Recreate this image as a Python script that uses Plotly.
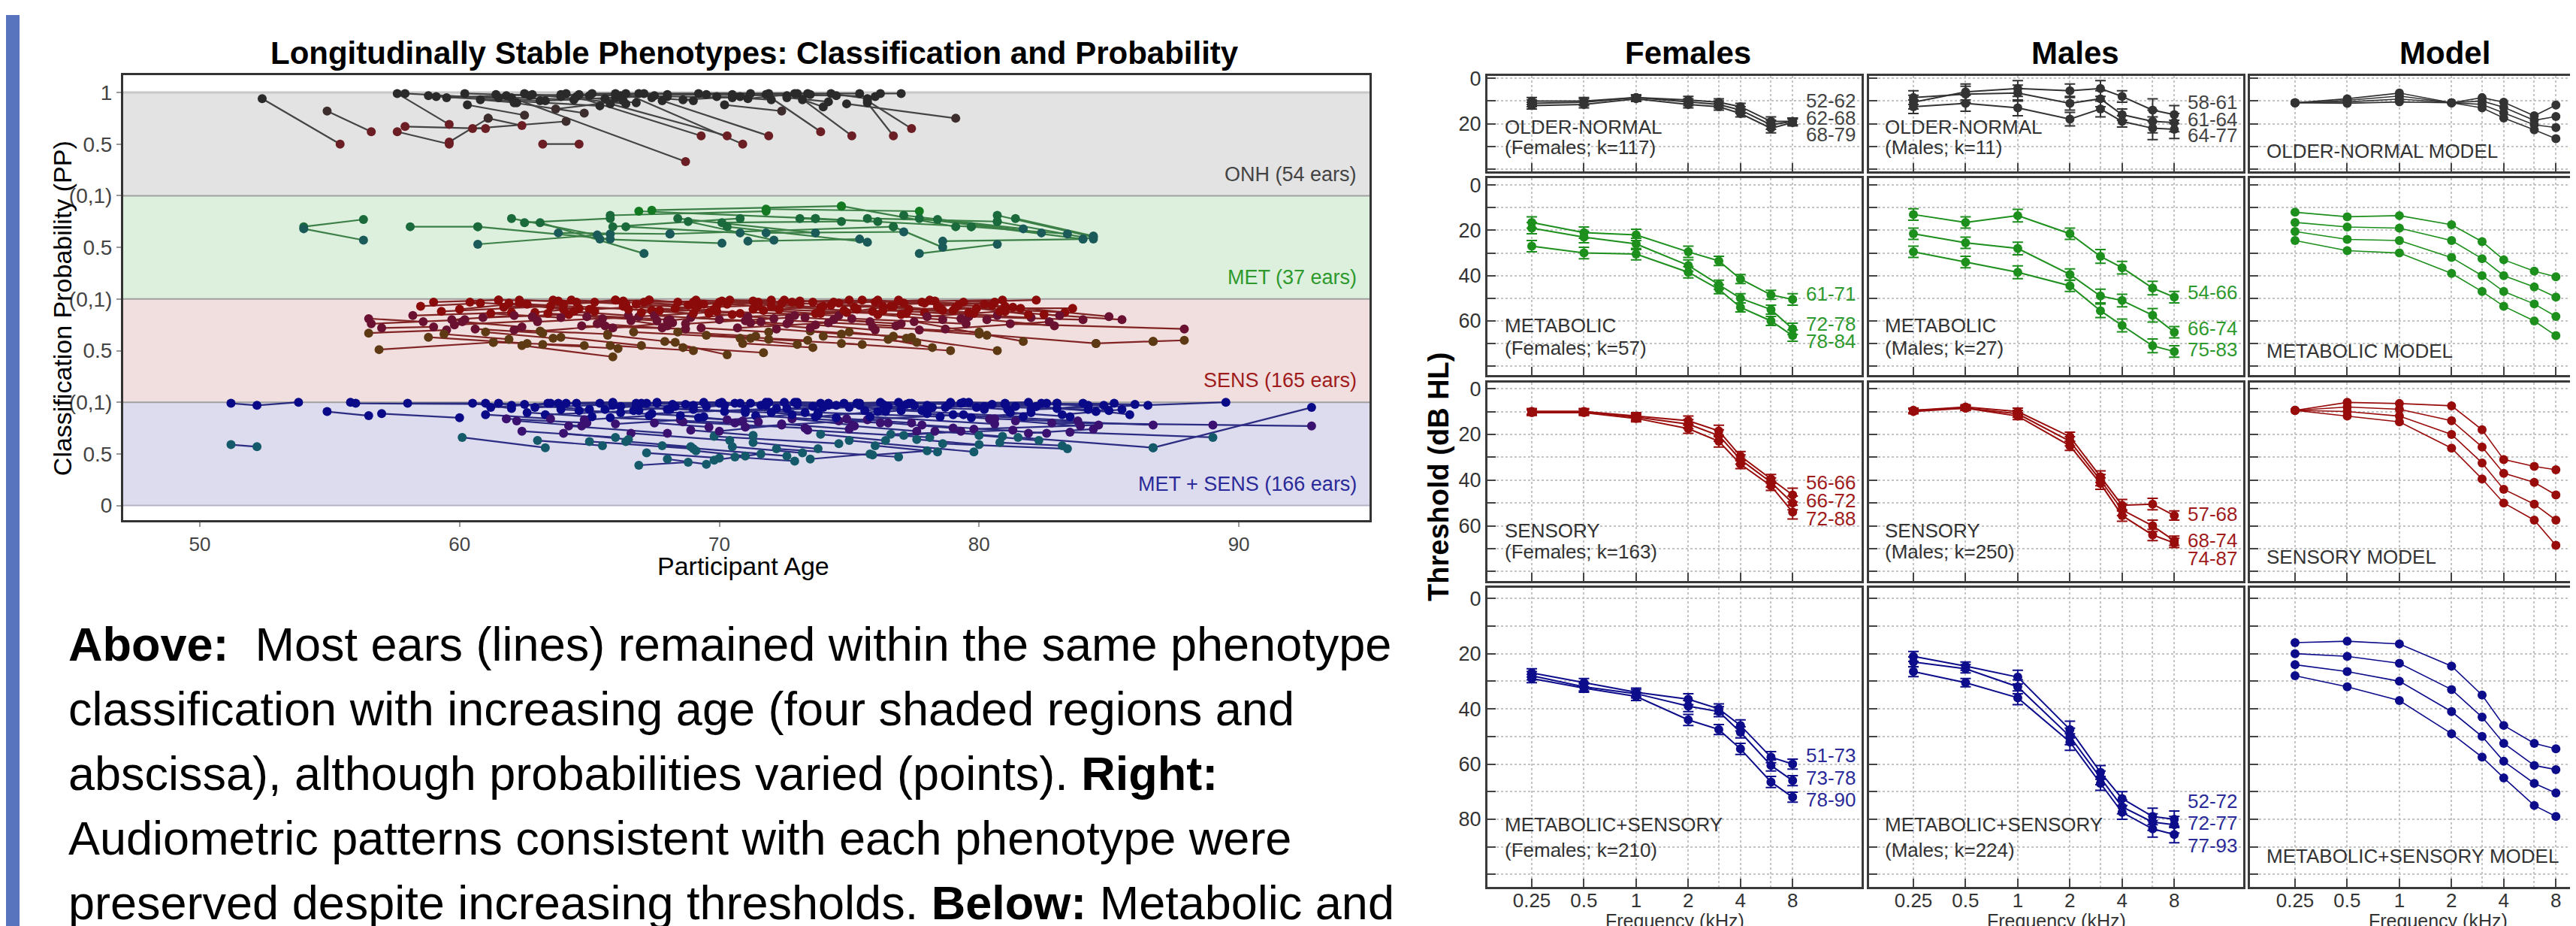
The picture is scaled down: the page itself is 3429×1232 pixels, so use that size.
import math
import plotly.graph_objects as go

W, H = 3429, 1232
FONT = "Liberation Sans, Arial, Helvetica, sans-serif"

# ------------------------------------------------------------------
# LEFT CHART DATA: each ear = (age1, pp1, age2, pp2[, age3, pp3])
# ------------------------------------------------------------------
ONH_EARS = [
    (52.4, 0.94, 55.4, 0.50), (54.9, 0.82, 56.6, 0.62), (57.6, 0.99, 59.6, 0.69),
    (57.9, 0.99, 63.1, 0.92), (57.6, 0.62, 59.6, 0.50), (57.9, 0.67, 61.0, 0.65),
    (59.6, 0.52, 61.1, 0.75), (59.1, 0.96, 65.4, 0.87), (60.5, 0.65, 64.1, 0.72),
    (61.8, 0.97, 68.7, 0.33), (63.2, 0.50, 64.6, 0.50), (62.5, 0.99, 66.4, 0.89),
    (64.1, 0.99, 69.3, 0.58), (65.8, 0.89, 70.3, 0.58), (66.4, 0.99, 70.9, 0.50),
    (67.8, 0.92, 71.9, 0.58), (71.8, 0.98, 73.9, 0.62), (72.9, 0.99, 75.1, 0.58),
    (75.7, 0.92, 77.4, 0.65), (75.7, 0.90, 76.7, 0.58), (74.9, 0.89, 79.1, 0.75),
    (58.8, 0.97, 61.5, 0.95), (59.5, 0.95, 62.8, 0.98), (60.2, 0.99, 63.9, 0.96),
    (60.8, 0.93, 62.2, 0.90), (61.4, 0.98, 65.0, 0.97), (62.0, 0.95, 64.4, 0.93),
    (62.7, 0.97, 67.1, 0.99), (63.3, 0.92, 66.0, 0.95), (63.9, 0.98, 68.0, 0.96),
    (64.5, 0.96, 66.8, 0.90), (65.1, 0.99, 69.5, 0.98), (65.6, 0.94, 67.5, 0.97),
    (66.2, 0.97, 70.5, 0.95), (66.9, 0.99, 71.2, 0.99), (67.4, 0.95, 69.0, 0.92),
    (68.0, 0.98, 72.6, 0.97), (68.6, 0.93, 70.8, 0.96), (69.2, 0.99, 73.4, 0.99),
    (69.9, 0.96, 72.0, 0.93), (70.5, 0.98, 74.5, 0.97), (71.1, 0.94, 73.0, 0.99),
    (71.9, 0.99, 75.4, 0.99), (72.6, 0.95, 74.2, 0.91), (73.5, 0.98, 76.0, 0.96),
    (74.3, 0.99, 75.7, 0.94), (62.1, 0.90, 64.8, 0.80), (60.3, 0.88, 62.5, 0.78),
    (63.7, 0.84, 66.3, 0.92), (70.2, 0.88, 72.4, 0.82), (76.2, 0.99, 77.0, 0.99),
    (73.2, 0.93, 74.0, 0.86), (64.6, 0.98, 66.0, 0.99), (61.1, 0.75, 62.4, 0.68),
]
MET_EARS = [
    (54.0, 0.70, 56.3, 0.77), (54.0, 0.68, 56.3, 0.57), (58.1, 0.70, 60.7, 0.70),
    (60.7, 0.53, 65.8, 0.63), (62.0, 0.78, 65.3, 0.62), (63.1, 0.74, 67.1, 0.44),
    (65.8, 0.81, 71.8, 0.85), (66.9, 0.85, 73.7, 0.78), (67.4, 0.86, 74.7, 0.90),
    (71.8, 0.87, 77.7, 0.85), (77.7, 0.78, 84.0, 0.58), (80.7, 0.81, 84.4, 0.60),
    (80.7, 0.75, 84.4, 0.58), (77.7, 0.44, 80.7, 0.53), (68.1, 0.63, 76.7, 0.70),
    (68.8, 0.75, 72.1, 0.57), (70.3, 0.70, 75.7, 0.55), (63.8, 0.64, 68.1, 0.63),
    (60.7, 0.70, 65.8, 0.58), (65.4, 0.58, 70.1, 0.54), (65.9, 0.70, 70.8, 0.78),
    (70.1, 0.74, 74.7, 0.75), (71.8, 0.64, 77.1, 0.65), (74.7, 0.90, 79.1, 0.70),
    (75.7, 0.78, 80.7, 0.75), (78.4, 0.77, 82.4, 0.64), (78.6, 0.56, 84.0, 0.58),
    (76.7, 0.70, 78.6, 0.50), (73.7, 0.78, 79.7, 0.70), (68.4, 0.78, 73.7, 0.64),
    (73.1, 0.78, 76.1, 0.75), (77.1, 0.81, 81.7, 0.68), (79.7, 0.70, 83.4, 0.63),
    (81.4, 0.78, 84.4, 0.61), (66.4, 0.70, 70.8, 0.64), (71.1, 0.56, 75.4, 0.58),
    (62.5, 0.74, 65.8, 0.78),
]
SENS_EARS = [
    (56.5, 0.81, 58.6, 0.78), (56.5, 0.67, 59.5, 0.70), (56.9, 0.51, 61.3, 0.58),
    (56.6, 0.76, 60.2, 0.80), (57.0, 0.72, 59.0, 0.73), (58.2, 0.84, 62.0, 0.87),
    (58.8, 0.63, 62.6, 0.57), (59.3, 0.88, 63.5, 0.93), (59.8, 0.75, 63.0, 0.79),
    (60.4, 0.97, 65.0, 0.90), (60.9, 0.82, 64.2, 0.85), (61.3, 0.58, 64.8, 0.55),
    (61.7, 0.92, 66.3, 0.98), (62.1, 0.70, 65.7, 0.66), (62.6, 0.95, 67.4, 0.89),
    (63.0, 0.78, 66.9, 0.83), (63.4, 0.86, 68.1, 0.80), (63.9, 0.63, 67.0, 0.55),
    (64.3, 0.99, 69.2, 0.94), (64.7, 0.74, 68.7, 0.71), (65.1, 0.90, 70.0, 0.97),
    (65.5, 0.81, 69.6, 0.87), (62.4, 0.55, 65.9, 0.44), (66.3, 0.93, 70.8, 0.86),
    (66.7, 0.68, 71.2, 0.62), (67.1, 0.97, 72.0, 0.99), (67.5, 0.84, 71.6, 0.78),
    (67.9, 0.59, 70.3, 0.46), (68.3, 0.91, 73.1, 0.95), (68.7, 0.76, 72.7, 0.82),
    (69.1, 0.99, 73.9, 0.92), (69.5, 0.65, 73.4, 0.60), (69.9, 0.88, 74.6, 0.84),
    (70.3, 0.95, 75.0, 0.99), (70.7, 0.72, 74.2, 0.77), (71.1, 0.83, 75.9, 0.88),
    (71.5, 0.97, 76.3, 0.93), (71.9, 0.61, 75.5, 0.56), (72.3, 0.90, 77.0, 0.85),
    (72.7, 0.79, 76.8, 0.74), (73.1, 0.98, 77.8, 0.97), (73.5, 0.69, 77.4, 0.63),
    (73.9, 0.86, 78.5, 0.91), (74.3, 0.94, 79.0, 0.89), (74.7, 0.57, 78.9, 0.50),
    (75.1, 0.81, 79.5, 0.76), (75.5, 0.99, 80.2, 0.95), (75.9, 0.73, 80.0, 0.68),
    (76.3, 0.89, 80.7, 0.84), (76.7, 0.64, 80.7, 0.50), (77.1, 0.96, 81.3, 0.92),
    (77.5, 0.78, 81.7, 0.59), (77.9, 0.87, 82.0, 0.82), (78.3, 0.98, 80.9, 0.99),
    (78.7, 0.71, 82.7, 0.78), (79.1, 0.92, 83.3, 0.87), (79.6, 0.83, 84.0, 0.80),
    (80.0, 0.66, 84.5, 0.57), (80.5, 0.94, 85.0, 0.83), (81.2, 0.76, 87.9, 0.71),
    (84.5, 0.57, 86.7, 0.59), (86.7, 0.59, 87.9, 0.60), (81.6, 0.91, 83.6, 0.91),
    (82.5, 0.85, 85.5, 0.80), (60.0, 0.90, 62.3, 0.96), (61.0, 0.68, 63.6, 0.62),
    (62.9, 0.87, 64.6, 0.91), (64.0, 0.95, 66.0, 0.99), (65.3, 0.76, 67.8, 0.72),
    (66.0, 0.99, 68.4, 0.97), (67.7, 0.89, 69.9, 0.93), (68.9, 0.82, 71.0, 0.79),
    (70.1, 0.98, 72.4, 0.96), (71.3, 0.90, 73.7, 0.86), (72.5, 0.99, 74.4, 0.97),
    (73.7, 0.75, 76.0, 0.70), (74.9, 0.87, 76.6, 0.93), (76.0, 0.97, 78.1, 0.99),
    (77.2, 0.86, 79.3, 0.81), (78.4, 0.93, 80.6, 0.97), (63.2, 0.56, 66.1, 0.52),
    (65.8, 0.55, 69.0, 0.50), (68.6, 0.53, 71.7, 0.48), (70.9, 0.57, 73.6, 0.53),
    (59.0, 0.97, 61.5, 0.99), (61.5, 0.99, 63.8, 0.98), (74.0, 0.64, 77.6, 0.58),
    (76.5, 0.61, 78.2, 0.53), (66.6, 0.79, 68.0, 0.74), (69.3, 0.72, 71.9, 0.68),
    (58.5, 0.93, 60.8, 0.96), (59.7, 0.80, 62.1, 0.84), (60.6, 0.71, 63.2, 0.67),
    (61.9, 0.96, 64.0, 0.90), (62.8, 0.83, 65.2, 0.88), (63.6, 0.99, 66.4, 0.95),
    (64.4, 0.88, 66.5, 0.84), (65.2, 0.97, 67.3, 0.99), (65.9, 0.72, 68.2, 0.77),
    (66.5, 0.90, 69.0, 0.86), (67.3, 0.99, 69.4, 0.95), (68.0, 0.79, 70.5, 0.85),
    (68.8, 0.94, 71.3, 0.98), (69.6, 0.86, 72.1, 0.81), (70.4, 0.99, 72.8, 0.97),
    (71.2, 0.77, 73.5, 0.72), (72.0, 0.93, 74.8, 0.89), (72.9, 0.84, 75.3, 0.90),
    (73.6, 0.97, 76.1, 0.99), (74.4, 0.80, 77.0, 0.76), (75.2, 0.92, 77.9, 0.96),
    (76.1, 0.85, 78.6, 0.80), (76.9, 0.99, 79.2, 0.94), (77.7, 0.70, 80.3, 0.65),
    (78.6, 0.89, 81.0, 0.93), (79.4, 0.97, 82.2, 0.99), (80.3, 0.80, 82.9, 0.74),
    (81.0, 0.88, 83.1, 0.84), (59.4, 0.66, 61.9, 0.61), (61.2, 0.86, 63.9, 0.82),
    (63.1, 0.69, 65.6, 0.74), (64.9, 0.83, 67.6, 0.79), (66.8, 0.95, 69.1, 0.91),
    (68.4, 0.68, 71.4, 0.64), (70.0, 0.80, 72.6, 0.76), (71.7, 0.89, 74.0, 0.93),
    (73.3, 0.82, 75.8, 0.78), (75.0, 0.68, 77.2, 0.62), (76.7, 0.93, 79.6, 0.87),
    (78.0, 0.83, 80.8, 0.88), (62.3, 0.99, 64.5, 0.97), (67.0, 0.87, 69.8, 0.90),
    (72.2, 0.71, 74.7, 0.66), (77.3, 0.90, 79.8, 0.86), (60.1, 0.78, 62.4, 0.73),
    (69.0, 0.97, 71.5, 0.93), (74.6, 0.96, 76.9, 0.98), (79.9, 0.91, 81.9, 0.85),
    (65.7, 0.65, 68.3, 0.58), (70.8, 0.62, 73.0, 0.56),
]
MS_EARS = [
    (51.2, 0.99, 52.2, 0.97, 53.8, 1.00), (55.8, 1.00, 56.0, 0.99, 62.5, 0.98),
    (54.9, 0.91, 56.5, 0.87), (51.2, 0.59, 52.2, 0.57), (60.1, 0.66, 63.3, 0.56),
    (66.9, 0.39, 68.8, 0.42), (61.5, 0.99, 65.0, 0.93), (61.8, 0.84, 64.9, 0.80),
    (62.4, 0.72, 66.0, 0.66), (62.9, 0.95, 67.2, 0.99), (63.3, 0.88, 66.9, 0.92),
    (63.8, 0.99, 68.3, 0.96), (64.2, 0.77, 68.0, 0.70), (64.6, 0.92, 69.4, 0.86),
    (65.0, 0.62, 69.0, 0.55), (65.4, 0.99, 70.1, 1.00), (65.8, 0.85, 70.6, 0.80),
    (66.2, 0.96, 71.0, 0.90), (66.6, 0.70, 70.4, 0.63), (67.0, 0.99, 71.8, 0.97),
    (67.4, 0.89, 72.2, 0.94), (67.8, 0.58, 72.6, 0.48), (68.2, 0.98, 73.0, 1.00),
    (68.6, 0.81, 73.3, 0.75), (69.0, 0.93, 73.8, 0.88), (69.4, 1.00, 74.2, 0.97),
    (69.8, 0.67, 74.6, 0.60), (70.2, 0.91, 75.0, 0.95), (70.6, 0.99, 75.3, 0.99),
    (71.0, 0.76, 75.7, 0.83), (71.4, 0.87, 76.2, 0.80), (71.8, 1.00, 76.5, 0.96),
    (72.2, 0.55, 76.9, 0.47), (72.6, 0.94, 77.3, 0.99), (73.0, 0.98, 77.8, 0.92),
    (73.4, 0.73, 78.1, 0.66), (73.8, 0.90, 78.5, 0.86), (74.2, 0.99, 78.9, 1.00),
    (74.6, 0.82, 79.4, 0.88), (75.0, 0.63, 79.8, 0.52), (75.4, 0.97, 80.2, 0.93),
    (75.8, 0.86, 80.6, 0.79), (76.2, 1.00, 81.0, 0.98), (76.6, 0.69, 81.3, 0.73),
    (77.0, 0.92, 81.7, 0.86), (77.4, 0.99, 82.2, 0.96), (77.8, 0.78, 82.6, 0.70),
    (78.2, 0.95, 83.0, 0.99), (78.6, 0.60, 83.4, 0.55), (79.0, 0.88, 83.8, 0.82),
    (79.4, 1.00, 84.2, 0.97), (79.8, 0.74, 84.6, 0.78), (80.2, 0.96, 85.0, 0.92),
    (80.6, 0.84, 86.7, 0.78), (81.0, 0.99, 86.0, 0.98), (81.5, 0.66, 86.7, 0.56),
    (82.0, 0.93, 89.5, 1.00), (82.8, 0.80, 89.0, 0.78, 92.8, 0.77),
    (83.5, 0.71, 89.0, 0.66), (86.7, 0.56, 92.8, 0.95), (84.0, 0.99, 86.5, 0.97),
    (62.0, 0.97, 64.1, 0.99), (63.0, 0.63, 65.5, 0.58), (64.5, 0.99, 66.8, 0.97),
    (66.0, 0.79, 68.5, 0.83), (67.2, 0.51, 70.0, 0.46), (68.0, 0.93, 70.2, 0.97),
    (69.2, 0.85, 71.5, 0.81), (70.5, 0.57, 73.2, 0.51), (71.6, 0.97, 73.9, 0.99),
    (72.8, 0.84, 75.1, 0.78), (74.0, 0.95, 76.3, 0.98), (75.2, 0.77, 77.6, 0.72),
    (76.4, 0.91, 78.7, 0.95), (77.6, 0.64, 80.0, 0.59), (78.8, 0.97, 81.1, 0.93),
    (80.0, 0.68, 82.3, 0.63), (81.2, 0.90, 83.5, 0.86), (82.4, 0.99, 84.8, 0.97),
    (60.5, 0.99, 62.0, 0.94), (73.5, 0.45, 75.8, 0.50), (69.8, 0.44, 71.6, 0.50),
    (65.6, 0.93, 67.6, 0.99), (70.8, 0.99, 72.5, 1.00), (74.8, 0.99, 76.9, 1.00),
    (79.3, 0.99, 81.9, 1.00), (83.0, 0.94, 85.2, 0.99), (61.0, 0.88, 63.5, 0.84),
    (58.0, 0.99, 61.0, 0.99), (57.0, 0.89, 60.0, 0.85),
    (61.2, 0.95, 63.4, 0.99), (62.6, 0.90, 65.1, 0.86), (63.5, 0.99, 65.9, 1.00),
    (64.8, 0.83, 67.3, 0.87), (65.9, 0.97, 68.1, 0.93), (66.7, 0.92, 69.0, 0.97),
    (67.6, 1.00, 70.0, 0.99), (68.5, 0.87, 70.9, 0.82), (69.5, 0.96, 71.9, 1.00),
    (70.3, 0.83, 72.8, 0.88), (71.2, 0.99, 73.6, 0.96), (72.0, 0.90, 74.5, 0.85),
    (72.9, 1.00, 75.4, 0.99), (73.7, 0.86, 76.1, 0.91), (74.5, 0.97, 77.0, 0.93),
    (75.6, 0.92, 78.0, 0.97), (76.5, 0.80, 79.0, 0.75), (77.2, 0.98, 79.6, 1.00),
    (78.0, 0.89, 80.4, 0.84), (78.9, 0.99, 81.4, 0.96), (79.7, 0.85, 82.0, 0.90),
    (80.5, 0.98, 83.0, 0.99), (81.4, 0.82, 83.9, 0.77), (82.2, 0.96, 84.5, 0.91),
    (83.2, 0.88, 85.5, 0.93), (64.0, 0.70, 66.5, 0.64), (66.4, 0.62, 68.9, 0.57),
    (68.9, 0.73, 71.3, 0.68), (71.3, 0.61, 73.8, 0.55), (73.9, 0.69, 76.4, 0.63),
    (76.0, 0.58, 78.4, 0.52), (78.3, 0.72, 80.9, 0.67), (80.8, 0.61, 83.2, 0.58),
    (67.5, 0.80, 69.6, 0.76), (70.0, 0.72, 72.4, 0.78), (72.4, 0.79, 75.0, 0.74),
    (74.9, 0.84, 77.4, 0.80), (77.1, 0.68, 79.3, 0.72), (69.1, 0.53, 71.0, 0.48),
    (75.9, 0.49, 78.0, 0.53), (63.9, 0.93, 66.2, 0.90), (66.8, 0.99, 68.7, 0.98),
    (71.0, 0.93, 73.3, 0.90), (75.3, 0.99, 77.5, 0.97), (79.9, 0.95, 82.6, 0.99),
    (84.2, 0.93, 85.8, 0.88), (62.2, 0.82, 64.7, 0.77), (70.6, 0.47, 72.9, 0.43),
    (68.0, 0.45, 69.5, 0.40), (81.9, 0.70, 84.4, 0.74),
]
AGE_TICKS = [50, 60, 70, 80, 90]
PP_TICKVALS = [0, 0.5, 1, 1.5, 2, 2.5, 3, 3.5, 4]
PP_TICKTEXT = ["0", "0.5", "(0,1)", "0.5", "(0,1)", "0.5", "(0,1)", "0.5", "1"]
BAND_LABELS = ["ONH (54 ears)", "MET (37 ears)", "SENS (165 ears)", "MET + SENS (166 ears)"]

# ------------------------------------------------------------------
# RIGHT PANELS DATA (thresholds, dB HL)
# ------------------------------------------------------------------
FREQS = [0.25, 0.5, 1, 2, 3, 4, 6, 8]
FREQ_TICKS = [0.25, 0.5, 1, 2, 4, 8]
FREQ_TICKTEXT = ["0.25", "0.5", "1", "2", "4", "8"]

F_ONH = [[10, 10, 8.5, 9.5, 10.5, 12.5, 19, 19],
         [11, 10.5, 8.5, 10.5, 11.5, 14, 20.5, 19],
         [12, 11.5, 9, 11.5, 12.5, 15.5, 22, 19.5]]
F_MET = [[16.5, 21, 22, 29.5, 33.5, 41.5, 48.5, 50.5],
         [19, 23, 26, 35.5, 44, 50, 55, 63.5],
         [27, 30, 30.5, 38.5, 46, 54, 60, 66.5]]
F_SENS = [[10, 10, 12, 14, 18.5, 29.5, 39.5, 46.5],
          [10, 10, 12.5, 15.5, 20.5, 31, 41, 50],
          [10.5, 10.5, 13, 17.5, 23, 33, 42.5, 54]]
F_MS = [[27, 30.5, 34, 36.5, 40, 46, 57.5, 60],
        [28, 32, 34.5, 39, 41, 48.5, 60.5, 66],
        [29, 32.5, 35.5, 44, 47.5, 54.5, 66.5, 72]]
M_ONH = [[10.5, 6, 4.5, 5.5, 4.5, 8, 14, 16],
         [8.5, 7, 6.5, 11, 9, 16, 19, 19.5],
         [12.5, 11, 13, 18, 13.5, 19, 22, 22.5]]
M_MET = [[13, 16.5, 13.5, 21.5, 31.5, 36.5, 45.5, 49.5],
         [21.5, 25.5, 28, 39.5, 49, 51, 57.5, 65],
         [29.5, 34, 38.5, 44.5, 55.5, 62, 71, 73.5]]
M_SENS = [[9.5, 8, 10, 21, 38.5, 51, 50.5, 55.5],
          [9.5, 8.5, 11, 23, 40, 53, 60, 66.5],
          [10, 8.5, 12, 25, 41.5, 55.5, 64, 67.5]]
M_MS = [[21, 24.5, 28.5, 47.5, 63, 72.5, 79, 80],
        [23, 25.5, 32, 50, 65, 75.5, 81, 82],
        [26.5, 30.5, 36, 52, 67, 77.5, 83.5, 85.5]]
MOD_ONH = [[10.8, 9, 6.5, 10.8, 8.5, 10.5, 16.5, 11.8],
           [10.8, 9.7, 7.8, 10.8, 10, 12.8, 18.5, 16.8],
           [10.8, 10.4, 9.1, 10.8, 11.5, 15.2, 20.5, 21.7],
           [10.8, 11, 10.4, 10.8, 13, 17.5, 22.7, 26.6]]
MOD_MET = [[12, 14, 13.5, 17.5, 25, 33, 38, 40.5],
           [16.5, 18.5, 19, 24.5, 32.5, 40, 45, 49.5],
           [20.5, 24, 24.5, 32, 40, 47, 52.5, 58],
           [24.5, 29, 30, 39, 47, 53.5, 60, 66.5]]
MOD_SENS = [[9.5, 6, 6.5, 7.5, 18, 31, 34, 35.5],
            [9.5, 8, 9, 14, 25.5, 37, 41, 46.5],
            [9.5, 10, 12, 20, 32.5, 44, 50.5, 57.5],
            [9.5, 12, 14.5, 26, 39.5, 50, 57.5, 68.5]]
MOD_MS = [[16, 15.5, 16.5, 24.5, 35, 46, 52.5, 54.5],
          [20, 21, 23.5, 33, 43, 52.5, 60.5, 62],
          [24, 26.5, 30, 41, 50, 59, 67, 70.5],
          [28, 32, 37, 49, 57.5, 65, 75, 79]]

F_ONH_ERR = [1.5, 1.5, 1.2, 1.5, 1.5, 1.5, 2.0, 1.5]
F_MET_ERR = [2.5, 2.5, 2.5, 2.5, 2.0, 2.0, 2.0, 2.5]
F_SENS_ERR = [1.2, 1.2, 1.5, 2.0, 2.5, 2.0, 2.0, 3.0]
F_MS_ERR = [1.5, 1.5, 1.5, 2.0, 1.8, 2.0, 2.0, 1.8]
M_ONH_ERR = [3.0, 3.5, 3.5, 3.0, 3.5, 2.5, 5.0, 4.0]
M_MET_ERR = [2.5, 2.5, 2.8, 2.5, 3.0, 2.8, 3.0, 2.5]
M_SENS_ERR = [1.0, 1.0, 1.5, 2.0, 2.5, 2.5, 2.5, 2.0]
M_MS_ERR = [1.8, 1.5, 2.5, 3.0, 2.5, 2.5, 3.0, 3.0]

F_ONH_AGES = ["52-62", "62-68", "68-79"]
F_MET_AGES = ["61-71", "72-78", "78-84"]
F_SENS_AGES = ["56-66", "66-72", "72-88"]
F_MS_AGES = ["51-73", "73-78", "78-90"]
M_ONH_AGES = ["58-61", "61-64", "64-77"]
M_MET_AGES = ["54-66", "66-74", "75-83"]
M_SENS_AGES = ["57-68", "68-74", "74-87"]
M_MS_AGES = ["52-72", "72-77", "77-93"]
MOD_AGES = ["55", "65", "75", "85"]

ROW_NAMES = ["OLDER-NORMAL", "METABOLIC", "SENSORY", "METABOLIC+SENSORY"]
F_SUBS = ["(Females; k=117)", "(Females; k=57)", "(Females; k=163)", "(Females; k=210)"]
M_SUBS = ["(Males; k=11)", "(Males; k=27)", "(Males; k=250)", "(Males; k=224)"]
MOD_NAMES = ["OLDER-NORMAL MODEL", "METABOLIC MODEL", "SENSORY MODEL", "METABOLIC+SENSORY MODEL"]
COL_TITLES = ["Females", "Males", "Model"]

PARAGRAPH = [
    "<b>Above:</b>&nbsp; Most ears (lines) remained within the same phenotype",
    "classification with increasing age (four shaded regions and",
    "abscissa), although probabilities varied (points). <b>Right:</b>",
    "Audiometric patterns consistent with each phenotype were",
    "preserved despite increasing thresholds. <b>Below:</b> Metabolic and",
]

# ------------------------------------------------------------------
# STYLE / LAYOUT
# ------------------------------------------------------------------
def px(x):
    return x / W


def py(y):
    return 1 - y / H


ROW_COLORS = ["#333333", "#1c8f1c", "#990c0c", "#0d0d8c"]
ROW_TEXT_COLORS = ["#444444", "#2e9a2e", "#a01c1c", "#2a2a98"]

fig = go.Figure()
annotations = []
shapes = []

# left blue bar
shapes.append(dict(type="rect", xref="paper", yref="paper", x0=0, x1=px(18), y0=0, y1=1,
                   fillcolor="#5874bf", line=dict(width=0), layer="below"))

# ---- left chart ----
BAND_FILLS = ["#e3e3e3", "#ddefdd", "#f1dfdf", "#dddcef"]
BAND_BASES = [3, 2, 1, 0]
for fill, base in zip(BAND_FILLS, BAND_BASES):
    shapes.append(dict(type="rect", xref="x domain", yref="y", x0=0, x1=1, y0=base, y1=base + 1,
                       fillcolor=fill, line=dict(width=0), layer="below"))
for yb, col, wdt in [(4, "#c8c8c8", 3), (3, "#a0a0a0", 2), (2, "#a0a0a0", 2), (1, "#a0a0a0", 2), (0, "#b4b4c4", 2)]:
    shapes.append(dict(type="line", xref="x domain", yref="y", x0=0, x1=1, y0=yb, y1=yb,
                       line=dict(color=col, width=wdt), layer="below"))

GROUPS = [
    (ONH_EARS, 3, "#333333", "#2a2a2a", "#3d2d2d", "#6b1f24"),
    (MET_EARS, 2, "#2a7436", "#137a22", "#1a6a3c", "#1a5a58"),
    (SENS_EARS, 1, "#761010", "#8b0a0a", "#6a1030", "#5e3a14"),
    (MS_EARS, 0, "#1a1a78", "#0a0a88", "#3a1070", "#145a6a"),
]
for ears, base, lcol, cmain, ca, cb in GROUPS:
    lx, ly, mx, my, mc = [], [], [], [], []
    for ear in ears:
        for a, p in zip(ear[0::2], ear[1::2]):
            lx.append(a)
            ly.append(base + p)
            mx.append(a)
            my.append(base + p)
            mc.append(cmain if p >= 0.85 else (ca if p >= 0.7 else cb))
        lx.append(None)
        ly.append(None)
    fig.add_trace(go.Scatter(x=lx, y=ly, mode="lines", line=dict(color=lcol, width=2.2),
                             opacity=0.9, xaxis="x", yaxis="y", hoverinfo="skip", showlegend=False))
    fig.add_trace(go.Scatter(x=mx, y=my, mode="markers", marker=dict(color=mc, size=12),
                             xaxis="x", yaxis="y", hoverinfo="skip", showlegend=False))

BAND_LABEL_Y = [3.21, 2.21, 1.21, 0.21]
for txt, yv, col in zip(BAND_LABELS, BAND_LABEL_Y, ROW_TEXT_COLORS):
    annotations.append(dict(text=txt, xref="paper", yref="y", x=px(1800), y=yv, xanchor="right",
                            yanchor="middle", showarrow=False, font=dict(size=27, color=col, family=FONT)))

layout = dict(
    width=W, height=H, margin=dict(l=0, r=0, t=0, b=0), paper_bgcolor="white", plot_bgcolor="white",
    showlegend=False, font=dict(family=FONT, color="#222"),
    xaxis=dict(domain=[px(156), px(1815)], range=[47.05, 95.03], anchor="y", tickvals=AGE_TICKS,
               ticks="outside", ticklen=6, tickwidth=1.5, tickcolor="#999",
               tickfont=dict(size=26, color="#444", family=FONT), showgrid=False, zeroline=False,
               showline=True, mirror=True, linecolor="#333", linewidth=3),
    yaxis=dict(domain=[py(679), py(81)], range=[-0.144, 4.166], anchor="x", tickvals=PP_TICKVALS,
               ticktext=PP_TICKTEXT, ticks="outside", ticklen=6, tickwidth=1.5, tickcolor="#999",
               tickfont=dict(size=28, color="#444", family=FONT), showgrid=False, zeroline=False,
               showline=True, mirror=True, linecolor="#333", linewidth=3),
)

# ---- right panels ----
ROW_PX = [(82, 210), (219, 484), (494, 760), (769, 1171)]
ROW_YRANGE = [(41, -1), (84, -3.1), (84, -2.6), (104.4, -4)]
ROW_LABELED = [[0, 20], [0, 20, 40, 60], [0, 20, 40, 60], [0, 20, 40, 60, 80]]
COL_PX = [(1972, 2470), (2480, 2978), (2987, 3485)]
ZERO_PX = [2031, 2539, 3047]
PX_OCT = 69.45

PANEL_DATA = [
    [(F_ONH, F_ONH_ERR, F_ONH_AGES), (M_ONH, M_ONH_ERR, M_ONH_AGES), (MOD_ONH, None, MOD_AGES)],
    [(F_MET, F_MET_ERR, F_MET_AGES), (M_MET, M_MET_ERR, M_MET_AGES), (MOD_MET, None, MOD_AGES)],
    [(F_SENS, F_SENS_ERR, F_SENS_AGES), (M_SENS, M_SENS_ERR, M_SENS_AGES), (MOD_SENS, None, MOD_AGES)],
    [(F_MS, F_MS_ERR, F_MS_AGES), (M_MS, M_MS_ERR, M_MS_AGES), (MOD_MS, None, MOD_AGES)],
]
AGE_LABEL_Y = [
    [[9.8, 17.4, 24.9], [10.5, 18, 25.2], [10.5, 16.7, 23.3, 29.8]],
    [[48.2, 61.3, 68.9], [47.5, 63.3, 72.5], [40.6, 49.2, 57.4, 66]],
    [[41, 48.9, 57], [55, 66.4, 74.3], [34.5, 45, 56.4, 67.4]],
    [[56.9, 65, 73], [73.6, 81.4, 89.5], [53.1, 61.7, 69.8, 78.2]],
]
NAME_Y = [150, 417, 693, 1088]
SUB_Y = [178, 447, 721, 1122]
MOD_NAME_Y = [183, 451, 728, 1130]
NAME_X = [1993, 2499, 3007]
L2 = math.log10(2)

for r in range(4):
    for c in range(3):
        k = 2 + r * 3 + c
        xa, ya = f"xaxis{k}", f"yaxis{k}"
        xr, yr = f"x{k}", f"y{k}"
        x0p, x1p = COL_PX[c]
        x1p = min(x1p, W)
        lo = -2 + (x0p - ZERO_PX[c]) / PX_OCT
        hi = -2 + (x1p - ZERO_PX[c]) / PX_OCT
        ymax, ymin = ROW_YRANGE[r]
        tv = list(range(0, int(ymax) + 1, 10))
        tt = [str(v) if v in ROW_LABELED[r] else "" for v in tv]
        layout[xa] = dict(
            type="log", domain=[px(x0p), px(x1p)], range=[lo * L2, hi * L2], anchor=yr,
            tickvals=FREQ_TICKS, ticktext=FREQ_TICKTEXT, showticklabels=(r == 3),
            ticklabelstandoff=-7,
            ticks="inside", ticklen=11, tickwidth=2, tickcolor="#444",
            tickfont=dict(size=26, color="#333", family=FONT),
            showgrid=True, gridcolor="#c4c4c4", griddash="dot", gridwidth=1.5,
            minor=dict(tickvals=[3, 6], showgrid=True, gridcolor="#c4c4c4", griddash="dot",
                       gridwidth=1.5, ticks=""),
            zeroline=False, showline=True, mirror=True, linecolor="#3a3a3a", linewidth=3,
        )
        layout[ya] = dict(
            domain=[py(ROW_PX[r][1]), py(ROW_PX[r][0])], range=[ymax, ymin], anchor=xr,
            tickvals=tv, ticktext=tt, showticklabels=(c == 0), ticks="inside", ticklen=11,
            tickwidth=2, tickcolor="#444", tickfont=dict(size=27, color="#333", family=FONT),
            showgrid=True, gridcolor="#c4c4c4", griddash="dot", gridwidth=1.5,
            zeroline=False, showline=True, mirror=(c != 2), linecolor="#3a3a3a", linewidth=3,
        )
        series, err, ages = PANEL_DATA[r][c]
        color = ROW_COLORS[r]
        for vals in series:
            kw = {}
            if err is not None:
                kw["error_y"] = dict(type="data", array=err, visible=True, color=color,
                                     thickness=2, width=7)
            fig.add_trace(go.Scatter(
                x=FREQS, y=vals, mode="lines+markers", xaxis=xr, yaxis=yr,
                line=dict(color=color, width=2 if err is not None else 1.6),
                marker=dict(color=color, size=12), hoverinfo="skip", showlegend=False, **kw))
        for lab, yv in zip(ages, AGE_LABEL_Y[r][c]):
            annotations.append(dict(text=lab, xref=xr, yref=yr, x=math.log10(8), y=yv, xshift=16,
                                    xanchor="left", yanchor="middle", showarrow=False,
                                    font=dict(size=26, color=ROW_TEXT_COLORS[r], family=FONT)))
        if c < 2:
            subs = F_SUBS if c == 0 else M_SUBS
            annotations.append(dict(text=ROW_NAMES[r], xref="paper", yref="paper", x=px(NAME_X[c]),
                                    y=py(NAME_Y[r]), xanchor="left", yanchor="middle", showarrow=False,
                                    font=dict(size=26, color="#333", family=FONT)))
            annotations.append(dict(text=subs[r], xref="paper", yref="paper", x=px(NAME_X[c]),
                                    y=py(SUB_Y[r]), xanchor="left", yanchor="middle", showarrow=False,
                                    font=dict(size=26, color="#333", family=FONT)))
        else:
            annotations.append(dict(text=MOD_NAMES[r], xref="paper", yref="paper", x=px(NAME_X[c]),
                                    y=py(MOD_NAME_Y[r]), xanchor="left", yanchor="middle",
                                    showarrow=False, font=dict(size=26, color="#333", family=FONT)))

# Frequency axis titles
for zx in ZERO_PX:
    annotations.append(dict(text="Frequency (kHz)", xref="paper", yref="paper", x=px(zx + 190),
                            y=0, xanchor="center", yanchor="bottom", showarrow=False, borderpad=0,
                            font=dict(size=25, color="#333", family=FONT)))

# Titles
annotations.append(dict(text="<b>Longitudinally Stable Phenotypes: Classification and Probability</b>",
                        xref="paper", yref="paper", x=px(996), y=py(51), xanchor="center",
                        yanchor="middle", showarrow=False, font=dict(size=42, color="black", family=FONT)))
for t, cx in zip(COL_TITLES, [2239, 2754, 3246]):
    annotations.append(dict(text=f"<b>{t}</b>", xref="paper", yref="paper", x=px(cx), y=py(51),
                            xanchor="center", yanchor="middle", showarrow=False,
                            font=dict(size=42, color="black", family=FONT)))
annotations.append(dict(text="<b>Threshold (dB HL)</b>", xref="paper", yref="paper", x=px(1907),
                        y=py(620), textangle=-90, xanchor="center", yanchor="middle", showarrow=False,
                        font=dict(size=38, color="black", family=FONT)))
annotations.append(dict(text="Classification Probability (PP)", xref="paper", yref="paper", x=px(75),
                        y=py(394), textangle=-90, xanchor="center", yanchor="middle", showarrow=False,
                        font=dict(size=34, color="black", family=FONT)))
annotations.append(dict(text="Participant Age", xref="paper", yref="paper", x=px(982), y=py(740),
                        xanchor="center", yanchor="middle", showarrow=False,
                        font=dict(size=34, color="black", family=FONT)))

# Paragraph
for i, line in enumerate(PARAGRAPH):
    annotations.append(dict(text=line, xref="paper", yref="paper", x=px(81), y=py(845 + 87 * i),
                            xanchor="left", yanchor="middle", showarrow=False,
                            font=dict(size=63, color="black", family=FONT)))

layout["annotations"] = annotations
layout["shapes"] = shapes
fig.update_layout(**layout)
fig.write_html("out.html")
